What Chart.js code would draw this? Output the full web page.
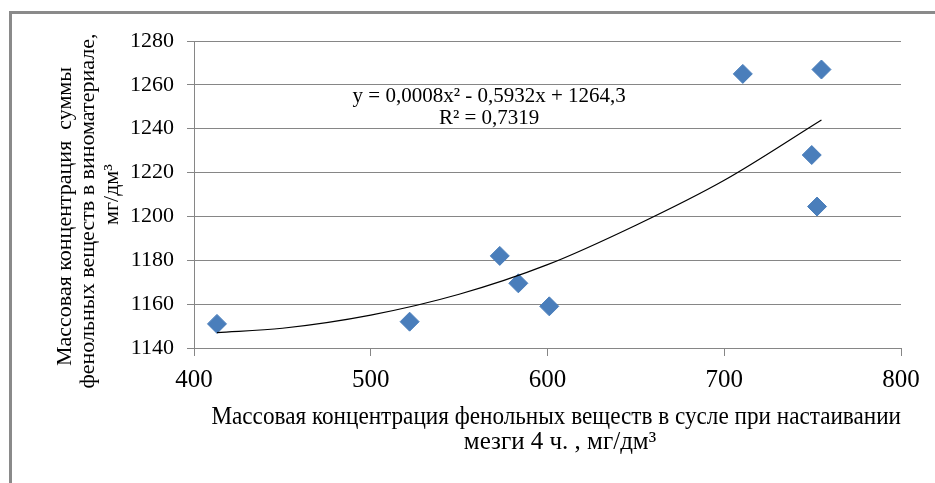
<!DOCTYPE html>
<html>
<head>
<meta charset="utf-8">
<script src="https://cdn.jsdelivr.net/npm/chart.js@4"></script>
<style>
  html, body { margin: 0; padding: 0; background: #fff; }
  #wrap { position: relative; width: 935px; height: 483px; overflow: hidden; }
  #frame {
    position: absolute; left: 9px; top: 11px; width: 960px; height: 500px;
    border-top: 3px solid #8a8a8a; border-left: 3px solid #8a8a8a;
  }
  canvas { position: absolute; left: 0; top: 0; }
</style>
</head>
<body>
<div id="wrap">
  <div id="frame"></div>
  <canvas id="chart" width="935" height="483"></canvas>
</div>
<script>
(function() {
  'use strict';

  // ── Data ────────────────────────────────────────────────────
  const phenolsMust = [413, 522, 573, 583.5, 601, 710.5, 749.5, 752.5, 755];
  const phenolsWine = [1151, 1152, 1182, 1169.5, 1159, 1265, 1228, 1204.5, 1267];

  // polynomial trendline, sampled from the drawn curve
  const trendX = [413, 450, 500, 550, 600, 650, 700, 755];
  const trendY = [1147, 1149, 1155, 1164.5, 1178, 1196, 1216.5, 1244];

  const xTicks = [400, 500, 600, 700, 800];
  const yTicks = [1140, 1160, 1180, 1200, 1220, 1240, 1260, 1280];

  const trendLabel = ['y = 0,0008x\u00B2 - 0,5932x + 1264,3', 'R\u00B2 = 0,7319'];
  const labelAt = { x: 567, y: 1254.5 };

  // spaces only nudge the centred lines the way the original text box sits
  const xTitle = ['   Массовая концентрация фенольных веществ в сусле при настаивании',
                  '    мезги 4 ч. , мг/дм\u00B3'];
  const yTitle = ['Массовая концентрация  суммы        ',
                  'фенольных веществ в виноматериале,      ',
                  'мг/дм\u00B3'];

  const SERIF = '"Liberation Serif", "Times New Roman", serif';
  const GRID = '#868686';
  const BLUE = '#4a7ebb';

  // ── Trendline equation label ────────────────────────────────
  const eqLabel = {
    id: 'eqLabel',
    afterDatasetsDraw(chart) {
      const { ctx, scales } = chart;
      const px = scales.x.getPixelForValue(labelAt.x);
      const py = scales.y.getPixelForValue(labelAt.y);
      ctx.save();
      ctx.font = '21px ' + SERIF;
      ctx.fillStyle = '#000';
      ctx.textAlign = 'center';
      ctx.textBaseline = 'middle';
      trendLabel.forEach((t, i) => ctx.fillText(t, px, py + i * 22));
      ctx.restore();
    }
  };

  const ctx = document.getElementById('chart').getContext('2d');
  new Chart(ctx, {
    type: 'scatter',
    data: {
      datasets: [
        {
          label: 'points',
          data: phenolsMust.map((x, i) => ({ x, y: phenolsWine[i] })),
          pointStyle: 'rectRot',
          pointRadius: 9.5,
          pointBackgroundColor: BLUE,
          pointBorderColor: BLUE,
          pointBorderWidth: 1,
          showLine: false,
          order: 1
        },
        {
          label: 'trend',
          data: trendX.map((x, i) => ({ x, y: trendY[i] })),
          showLine: true,
          borderColor: '#000',
          borderWidth: 1.2,
          pointRadius: 0,
          tension: 0.4,
          cubicInterpolationMode: 'monotone',
          order: 0
        }
      ]
    },
    options: {
      responsive: false,
      animation: false,
      devicePixelRatio: 1,
      layout: { padding: { top: 41, right: 34, bottom: 28, left: 0 } },
      plugins: {
        legend: { display: false },
        tooltip: { enabled: false }
      },
      scales: {
        x: {
          type: 'linear',
          min: 400, max: 800,
          afterBuildTicks: s => { s.ticks = xTicks.map(v => ({ value: v })); },
          grid: { drawOnChartArea: false, drawTicks: true, tickLength: 8, color: GRID },
          border: { color: GRID, width: 1 },
          ticks: { color: '#000', font: { family: SERIF, size: 25 }, padding: 9, maxRotation: 0,
                   callback: v => String(v) },
          title: {
            display: true, text: xTitle, color: '#000',
            font: { family: SERIF, size: 25, lineHeight: 1.0 },
            padding: { top: 1, bottom: 0 }
          }
        },
        y: {
          type: 'linear',
          min: 1140, max: 1280,
          afterBuildTicks: s => { s.ticks = yTicks.map(v => ({ value: v })); },
          afterFit: s => { s.width = 194; },
          grid: { color: GRID, tickLength: 7 },
          border: { color: GRID, width: 1 },
          ticks: { color: '#000', font: { family: SERIF, size: 22 }, padding: 13,
                   callback: v => String(v) },
          title: {
            display: true, text: yTitle, color: '#000',
            font: { family: SERIF, size: 22, lineHeight: 1.07 },
            padding: { top: 53, bottom: 0 }
          }
        }
      }
    },
    plugins: [eqLabel]
  });
})();
</script>
</body>
</html>
